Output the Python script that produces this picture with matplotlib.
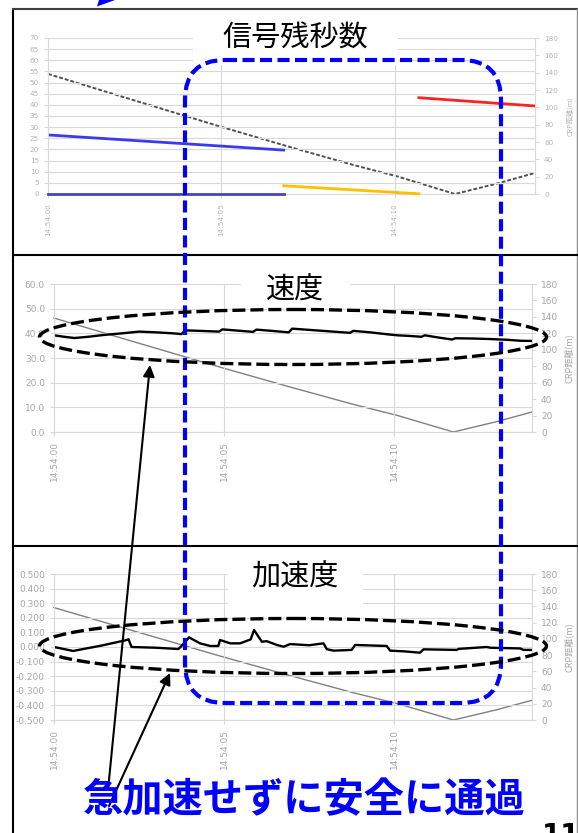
import matplotlib
matplotlib.use("Agg")
import matplotlib.pyplot as plt
from matplotlib.patches import Ellipse, FancyBboxPatch, Rectangle, Polygon

W, H = 578, 833
plt.rcParams['font.family'] = ['DejaVu Sans']
JP = ['Noto Sans CJK JP', 'DejaVu Sans']

# ---- time axis (seconds after 14:54:00) ----
time_ticks = [0, 5, 10]
time_labels = ['14:54:00', '14:54:05', '14:54:10']
t_max = 14.05

# ---- distance to the crossing point (m) ----
crp_t = [0.0, 2.0, 4.87, 6.94, 8.8, 10.08, 11.74, 13.0, 14.05]
crp_d = [138.6, 114.0, 79.0, 54.7, 33.6, 20.3, 0.0, 12.5, 24.3]

# ---- signal remaining seconds ----
green_t = [0.0, 6.8]
green_s = [26.5, 19.7]
base_t = [0.0, 6.8]
base_s = [0.0, 0.0]
yellow_t = [6.8, 10.7]
yellow_s = [3.7, 0.1]
red_t = [10.7, 14.05]
red_s = [43.2, 39.5]

# ---- speed (km/h) ----
speed_t = [0.0, 0.3, 0.6, 1.0, 1.5, 2.0, 2.5, 3.0, 3.5, 3.75, 3.85, 4.3, 4.85,
           4.95, 5.4, 5.85, 5.95, 6.4, 6.9, 7.0, 7.5, 8.0, 8.7, 8.8, 9.3, 9.8,
           10.1, 10.5, 10.8, 10.9, 11.3, 11.7, 11.8, 12.3, 12.8, 13.3, 13.7, 14.05]
speed_v = [39.2, 38.6, 38.1, 38.6, 39.4, 40.0, 40.7, 40.4, 40.0, 39.7, 41.2, 41.0, 40.7,
           41.6, 41.1, 40.6, 41.5, 41.0, 40.4, 41.9, 41.4, 40.9, 40.2, 41.0, 40.4, 39.6,
           39.2, 38.9, 38.6, 39.2, 38.3, 37.5, 38.0, 37.9, 37.7, 37.4, 37.0, 36.9]

# ---- acceleration (m/s^2) ----
acc_t = [0.0, 0.56, 1.4, 2.14, 2.19, 2.28, 3.0, 3.66, 3.78, 3.97, 4.29, 4.59, 4.83,
         4.88, 5.18, 5.47, 5.78, 5.88, 6.11, 6.25, 6.55, 6.75, 6.94, 7.5, 7.92,
         8.02, 8.22, 8.75, 8.85, 9.78, 9.88, 10.3, 10.76, 10.86, 11.84, 11.89,
         12.72, 12.82, 13.71, 13.8, 14.05]
acc_a = [0.0, -0.027, 0.01, 0.048, 0.053, 0.0, -0.005, -0.014, 0.015, 0.066, 0.025, 0.007, 0.007,
         0.048, 0.025, 0.025, 0.052, 0.116, 0.036, 0.04, 0.014, 0.002, 0.02, 0.012, 0.025,
         -0.015, -0.025, -0.02, 0.014, 0.007, -0.025, -0.03, -0.039, -0.016, -0.02, -0.013,
         0.0, -0.005, -0.01, -0.02, -0.02]

fig = plt.figure(figsize=(W / 100, H / 100), dpi=100)
fig.patch.set_facecolor('white')


def px_axes(left, top, right, bottom):
    return fig.add_axes([left / W, 1 - bottom / H, (right - left) / W, (bottom - top) / H])


GRID = '#d9d9d9'


def style_panel(ax, ax2, ylim, yticks, ylabels, fs, lab_color, labelpad):
    ax.set_xlim(0, t_max)
    ax.set_ylim(*ylim)
    ax.set_yticks(yticks)
    ax.set_yticklabels(ylabels)
    ax.set_xticks(time_ticks)
    ax.set_xticklabels(time_labels, rotation=90)
    ax.grid(True, color=GRID, lw=0.8)
    for s in ['top', 'right']:
        ax.spines[s].set_visible(False)
    for s in ['left', 'bottom']:
        ax.spines[s].set_color(GRID)
    ax.tick_params(colors=GRID, labelcolor=lab_color, labelsize=fs, length=3, width=0.8)
    ax2.set_xlim(0, t_max)
    ax2.set_ylim(0, 180)
    ax2.set_yticks(range(0, 181, 20))
    for s in ['top', 'left', 'bottom']:
        ax2.spines[s].set_visible(False)
    ax2.spines['right'].set_color(GRID)
    ax2.tick_params(colors=GRID, labelcolor=lab_color, labelsize=fs, length=3, width=0.8)
    ax2.set_ylabel('CRP距離(m)', family=JP, color=lab_color, fontsize=fs, labelpad=labelpad)
    ax.set_zorder(ax2.get_zorder() + 1)
    ax.patch.set_visible(False)


# ---- top panel: signal remaining seconds ----
ax1 = px_axes(48, 38, 535, 194)
ax1b = ax1.twinx()
ax1b.plot(crp_t, crp_d, color='#505050', lw=1.4, ls=(0, (2, 1)), clip_on=False)
ax1.plot(green_t, green_s, color='#3a3af0', lw=2)
ax1.plot(base_t, base_s, color='#4646b4', lw=2, clip_on=False, zorder=3)
ax1.plot(yellow_t, yellow_s, color='#ffc000', lw=2, clip_on=False, zorder=3)
ax1.plot(red_t, red_s, color='#ff2020', lw=2)
style_panel(ax1, ax1b, (0, 70), list(range(0, 71, 5)), [str(v) for v in range(0, 71, 5)],
            5.2, '#b4b4b4', 6)

# ---- middle panel: speed ----
ax2 = px_axes(54, 284, 532, 432)
ax2b = ax2.twinx()
ax2b.plot(crp_t, crp_d, color='#808080', lw=1, clip_on=False)
ax2.plot(speed_t, speed_v, color='black', lw=1.7)
style_panel(ax2, ax2b, (0, 60), list(range(0, 61, 10)), [f'{v:.1f}' for v in range(0, 61, 10)],
            6.5, '#a6a6a6', 4)

# ---- bottom panel: acceleration ----
acc_ticks = [i / 10 for i in range(-5, 6)]
ax3 = px_axes(54, 574, 532, 720)
ax3b = ax3.twinx()
ax3b.plot(crp_t, crp_d, color='#808080', lw=1, clip_on=False)
ax3.plot(acc_t, acc_a, color='black', lw=1.7)
style_panel(ax3, ax3b, (-0.5, 0.5), acc_ticks, [f'{v:.3f}' for v in acc_ticks],
            6.5, '#a6a6a6', 4)

# ---- overlay in pixel coordinates ----
ov = fig.add_axes([0, 0, 1, 1])
ov.set_xlim(0, W)
ov.set_ylim(H, 0)
ov.axis('off')
ov.patch.set_visible(False)
ov.set_zorder(10)

# panel frames
ov.plot([13, 13], [9, H], color='black', lw=1.5, solid_capstyle='butt')
ov.plot([13, 577], [9, 9], color='#404040', lw=1.5)
ov.plot([577, 577], [9, H], color='#909090', lw=1)
ov.plot([13, 577], [255, 255], color='black', lw=1.5)
ov.plot([13, 577], [546, 546], color='black', lw=1.5)

# panel titles on white boxes
for (x0, y0, w, h), (tx, ty, txt) in [((193, 15, 205, 50), (295, 39, '信号残秒数')),
                                        ((241, 268, 109, 36), (295, 291, '速度')),
                                        ((228, 560, 135, 48), (295, 578, '加速度'))]:
    ov.add_patch(Rectangle((x0, y0), w, h, facecolor='white', edgecolor='none', zorder=1))
    ov.text(tx, ty, txt, ha='center', va='center', fontsize=21, family=JP, color='black', zorder=2)

# highlighted window
ov.add_patch(FancyBboxPatch((185, 60), 316, 643, boxstyle='round,pad=0,rounding_size=40',
                            fill=False, edgecolor='#0000ff', lw=3, ls=(0, (2.9, 1.3)), zorder=5))

# dashed ellipses around the speed and acceleration traces
for cy in (337, 646):
    ov.add_patch(Ellipse((293, cy), 507, 55, fill=False, edgecolor='black', lw=2.4,
                         ls=(0, (3.9, 1.5)), zorder=6))

# arrows from the caption
for (hx, hy), (sx, sy) in [((150, 365), (108, 790)), ((170, 673), (109, 806))]:
    ov.annotate('', xy=(hx, hy), xytext=(sx, sy), zorder=7,
                arrowprops=dict(arrowstyle='-|>', color='black', lw=1.5, mutation_scale=17,
                                shrinkA=0, shrinkB=0))

ov.text(304, 801, '急加速せずに安全に通過', ha='center', va='center', fontsize=29,
        fontweight='bold', color='#0000ff', family=JP, zorder=8)

# arrow tip entering from above and page number at the lower edge
ov.add_patch(Polygon([(97, 6.5), (99, 0), (115, 0)], closed=True, facecolor='#0000ff',
                     edgecolor='none', zorder=8))
ov.text(561, 822, '11', ha='center', va='top', fontsize=20, fontweight='bold', color='black', zorder=8)

fig.savefig('out.png', dpi=100, facecolor='white')
